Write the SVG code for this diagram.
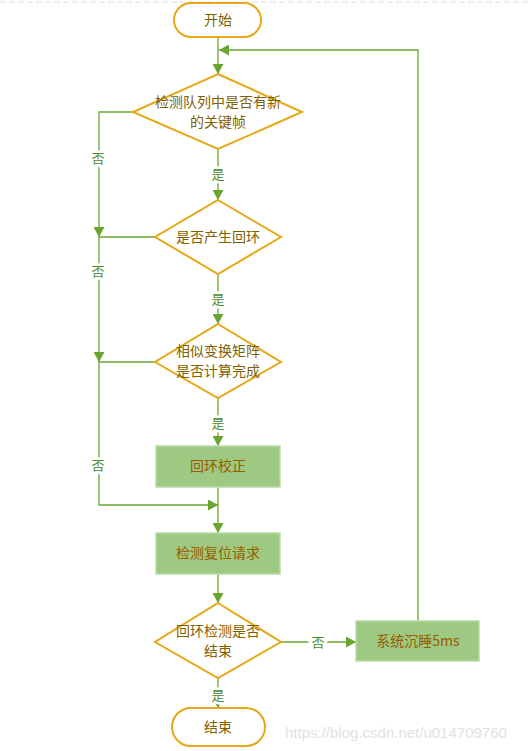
<svg xmlns="http://www.w3.org/2000/svg" width="529" height="751" viewBox="0 0 529 751">
<defs>
<style>
.term{fill:#fff;stroke:#e6a817;stroke-width:2}
.dec{fill:#fff;stroke:#e6a817;stroke-width:2}
.proc{fill:#9dc983;stroke:#b9dba5;stroke-width:1.5}
.t{font-family:"Noto Sans CJK SC","Liberation Sans",sans-serif;font-size:14px;fill:#7f6000;text-anchor:middle}
.pt{font-family:"Noto Sans CJK SC","Liberation Sans",sans-serif;font-size:14px;fill:#995c00;text-anchor:middle}
.lbl{font-family:"Noto Sans CJK SC","Liberation Sans",sans-serif;font-size:13px;fill:#4f8a1e;text-anchor:middle;stroke:#fff;stroke-width:5;paint-order:stroke}
.c{fill:none;stroke:#6aa532;stroke-width:1.3;marker-end:url(#ah)}
.cn{fill:none;stroke:#6aa532;stroke-width:1.3}
.wm{font-family:"Liberation Sans",Arial,sans-serif;font-size:15px;fill:#e2e2e2}
</style>
<marker id="ah" markerUnits="userSpaceOnUse" markerWidth="11" markerHeight="11" refX="10" refY="5.5" orient="auto">
<path d="M0,0 L10,5.5 L0,11 z" fill="#6aa532"/>
</marker>
</defs>
<rect width="529" height="751" fill="#fff"/>
<line x1="0" y1="2" x2="529" y2="2" stroke="#dddddd" stroke-width="1" stroke-dasharray="6,3"/>

<g id="connectors">
<path class="c" d="M218,37 V74"/>
<path class="c" d="M418,621 V50 H219"/>
<path class="c" d="M218,149 V200"/>
<path class="c" d="M133,112 H99 V237"/>
<path class="cn" d="M155,237 H99"/>
<path class="c" d="M99,237 V362"/>
<path class="c" d="M218,274 V324"/>
<path class="c" d="M155,362 H99 V505 H218"/>
<path class="c" d="M218,398 V446"/>
<path class="c" d="M218,487 V533"/>
<path class="c" d="M218,574 V603"/>
<path class="c" d="M281,642 H356"/>
<path class="c" d="M218,678 V708"/>
<text class="lbl" x="98" y="163">否</text>
<text class="lbl" x="218" y="179">是</text>
<text class="lbl" x="98" y="276">否</text>
<text class="lbl" x="218" y="304">是</text>
<text class="lbl" x="218" y="428">是</text>
<text class="lbl" x="98" y="470">否</text>
<text class="lbl" x="318" y="647">否</text>
<text class="lbl" x="218" y="700">是</text>
</g>

<g id="start">
<rect class="term" x="174" y="3" width="87" height="34" rx="17"/>
<text class="t" x="218" y="25">开始</text>
</g>
<g id="d1">
<polygon class="dec" points="218,74 302,112 218,149 133,112"/>
<text class="t" x="218" y="107">检测队列中是否有新</text>
<text class="t" x="218" y="127">的关键帧</text>
</g>
<g id="d2">
<polygon class="dec" points="218,200 281,237 218,274 155,237"/>
<text class="t" x="218" y="242">是否产生回环</text>
</g>
<g id="d3">
<polygon class="dec" points="218,324 281,362 218,398 155,362"/>
<text class="t" x="218" y="356">相似变换矩阵</text>
<text class="t" x="218" y="376">是否计算完成</text>
</g>
<g id="r1">
<rect class="proc" x="156" y="446" width="124" height="41"/>
<text class="pt" x="218" y="471">回环校正</text>
</g>
<g id="r2">
<rect class="proc" x="156" y="533" width="124" height="41"/>
<text class="pt" x="218" y="558">检测复位请求</text>
</g>
<g id="d4">
<polygon class="dec" points="218,603 281,642 218,678 155,642"/>
<text class="t" x="218" y="636">回环检测是否</text>
<text class="t" x="218" y="656">结束</text>
</g>
<g id="r3">
<rect class="proc" x="356" y="621" width="123" height="40"/>
<text class="pt" x="418" y="646">系统沉睡5ms</text>
</g>
<g id="end">
<rect class="term" x="172" y="708" width="93" height="38" rx="19"/>
<text class="t" x="218" y="732">结束</text>
</g>
<text class="wm" x="285" y="738">https://blog.csdn.net/u014709760</text>
</svg>
